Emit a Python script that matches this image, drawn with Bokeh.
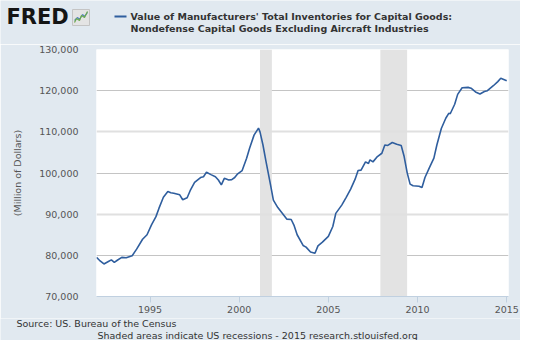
from bokeh.plotting import figure
from bokeh.layouts import column
from bokeh.models import (FixedTicker, NumeralTickFormatter, BoxAnnotation, Grid, Range1d)
from bokeh.core.properties import value
from bokeh.embed import file_html
from bokeh.resources import INLINE

# ---- data ----
months = ["1992-01", "1992-03", "1992-06", "1992-09", "1992-11", "1993-01", "1993-03",
          "1993-06", "1993-09", "1994-01", "1994-04", "1994-08", "1994-11", "1995-02",
          "1995-05", "1995-07", "1995-10", "1996-01", "1996-03", "1996-05", "1996-09",
          "1996-11", "1997-02", "1997-04", "1997-07", "1997-11", "1998-01", "1998-03",
          "1998-06", "1998-09", "1998-11", "1999-01", "1999-03", "1999-06", "1999-08",
          "1999-10", "1999-12", "2000-03", "2000-06", "2000-08", "2000-11", "2001-02",
          "2001-03", "2001-05", "2001-07", "2001-10", "2001-12", "2002-03", "2002-06",
          "2002-09", "2002-12", "2003-02", "2003-04", "2003-08", "2003-10", "2004-01",
          "2004-04", "2004-06", "2004-09", "2005-01", "2005-04", "2005-06", "2005-10",
          "2006-01", "2006-04", "2006-07", "2006-09", "2006-11", "2007-02", "2007-04",
          "2007-05", "2007-07", "2007-10", "2008-01", "2008-03", "2008-05", "2008-08",
          "2008-11", "2009-02", "2009-04", "2009-06", "2009-08", "2009-10", "2010-02",
          "2010-04", "2010-06", "2010-09", "2010-12", "2011-02", "2011-05", "2011-08",
          "2011-10", "2011-11", "2012-02", "2012-04", "2012-07", "2012-11", "2013-01",
          "2013-04", "2013-07", "2013-10", "2013-12", "2014-02", "2014-04", "2014-07",
          "2014-09", "2014-11", "2015-01"]
inventories = [79500, 78800, 77900, 78500, 78900, 78300, 78800,
               79500, 79400, 79900, 81500, 83900, 85000, 87400,
               89400, 91400, 94100, 95500, 95200, 95100, 94700,
               93500, 94000, 95700, 97700, 98900, 99100, 100200,
               99600, 99100, 98300, 97100, 98700, 98300, 98400,
               98900, 99800, 100600, 103600, 106000, 109200, 110900,
               110000, 106800, 102900, 97300, 93400, 91600, 90200,
               88800, 88700, 87200, 85000, 82400, 82000, 80800,
               80500, 82300, 83200, 84600, 87000, 90200, 92200,
               94100, 96100, 98500, 100600, 100700, 102700, 102300,
               103200, 102700, 104000, 104800, 106800, 106700, 107400,
               107000, 106700, 104000, 100100, 97300, 96900, 96800,
               96500, 98900, 101300, 103600, 106800, 110800, 113300,
               114500, 114400, 116700, 119100, 120700, 120800, 120600,
               119700, 119200, 119800, 120000, 120600, 121200, 122200,
               123000, 122700, 122400]
recession_starts = ["2001-03", "2007-12"]
recession_ends = ["2001-11", "2009-06"]
x_ticks = [1995, 2000, 2005, 2010, 2015]
y_ticks = [70000, 80000, 90000, 100000, 110000, 120000, 130000]

title_lines = ["Value of Manufacturers' Total Inventories for Capital Goods:",
               "Nondefense Capital Goods Excluding Aircraft Industries"]
source_text = "Source: US. Bureau of the Census"
note_text = "Shaded areas indicate US recessions - 2015 research.stlouisfed.org"


def dec(m):
    y, mo = m.split("-")
    return int(y) + (int(mo) - 1) / 12.0


xs = [dec(m) for m in months]

BG = "#e1e9f0"
FONT = "DejaVu Sans"
LINE = "#2f5e9e"
W = 520
HDR_H, MAIN_H, FTR_H = 44, 274, 22


def blank(h):
    f = figure(width=W, height=h, output_backend="svg", toolbar_location=None,
               x_range=Range1d(0, W), y_range=Range1d(h, 0),
               x_axis_type=None, y_axis_type=None, frame_align=False,
               min_border_left=0, min_border_right=0, min_border_top=0, min_border_bottom=0,
               background_fill_color=BG, border_fill_color=BG, outline_line_color=None)
    f.grid.visible = False
    return f


# ---- header ----
hdr = blank(HDR_H)
hdr.text(x=[6], y=[16.8], text=["FRED"], text_font=value(FONT), text_font_size="21px",
         text_font_style="bold", text_color="#151515", text_baseline="middle")
hdr.quad(left=[72], right=[89], top=[9], bottom=[25], fill_color="#e4e4e4",
         line_color="#c4c4c4", line_width=1)
hdr.line(x=[74, 77, 79, 82, 84, 87], y=[20, 17, 19, 14, 16, 12], line_color="#5b86c0",
         line_width=1.2)
hdr.line(x=[74, 76, 79, 81, 84, 87], y=[22, 18, 20, 15, 17, 11], line_color="#6aa84f",
         line_width=1.2)
hdr.segment(x0=[114], y0=[16], x1=[126], y1=[16], line_color=LINE, line_width=2)
hdr.text(x=[130, 130], y=[16, 27.7], text=title_lines, text_font=value(FONT),
         text_font_size="9.5px", text_font_style="bold", text_color="#333333",
         text_baseline="middle")

# ---- main chart ----
L, R, T, B = 96, 12, 5, 22
p_main = figure(width=W, height=MAIN_H, output_backend="svg", toolbar_location=None,
                x_range=Range1d(1992.0, 2015.1), y_range=Range1d(70000, 130000),
                frame_align=False,
                min_border_left=L, min_border_right=R, min_border_top=T, min_border_bottom=B,
                background_fill_color="white", border_fill_color=BG, outline_line_color=None)

for s, e in zip(recession_starts, recession_ends):
    p_main.add_layout(BoxAnnotation(left=dec(s), right=dec(e), fill_color="#e3e3e3",
                                    fill_alpha=1.0, line_color=None, level="underlay"))

p_main.xgrid.visible = False
p_main.ygrid.ticker = FixedTicker(ticks=[80000, 100000, 120000, 130000])
p_main.ygrid.grid_line_color = "#c4c4c4"
p_main.ygrid.grid_line_width = 1
p_main.add_layout(Grid(dimension=1, ticker=FixedTicker(ticks=[90000, 110000]),
                       grid_line_color="#e0e0e0", grid_line_width=2))

p_main.line(xs, inventories, line_color=LINE, line_width=1.6)

p_main.yaxis.ticker = FixedTicker(ticks=y_ticks)
p_main.yaxis.formatter = NumeralTickFormatter(format="0,0")
p_main.yaxis.axis_line_color = None
p_main.yaxis.major_tick_line_color = None
p_main.yaxis.minor_tick_line_color = None
p_main.yaxis.major_tick_out = 0
p_main.yaxis.major_tick_in = 0
p_main.yaxis.major_label_standoff = 18
p_main.yaxis.axis_label = "(Million of Dollars)"
p_main.yaxis.axis_label_standoff = 13
p_main.yaxis.axis_label_text_font_style = "normal"
p_main.yaxis.axis_label_text_font = FONT
p_main.yaxis.axis_label_text_font_size = "9.5px"
p_main.yaxis.axis_label_text_color = "#555555"

p_main.xaxis.ticker = FixedTicker(ticks=x_ticks)
p_main.xaxis.axis_line_color = "#c0d0e0"
p_main.xaxis.major_tick_line_color = "#c0d0e0"
p_main.xaxis.minor_tick_line_color = None
p_main.xaxis.major_tick_out = 6
p_main.xaxis.major_tick_in = 0
p_main.xaxis.major_label_standoff = 3

for ax in (p_main.xaxis, p_main.yaxis):
    ax.major_label_text_font = FONT
    ax.major_label_text_font_size = "9.5px"
    ax.major_label_text_color = "#555555"

# ---- footer ----
ftr = blank(FTR_H)
ftr.text(x=[16, 97], y=[5, 16.5], text=[source_text, note_text], text_font=value(FONT),
         text_font_size="9.5px", text_color="#333333", text_baseline="middle")

p = column(hdr, p_main, ftr, spacing=0)

open("out.html", "w").write(file_html(p, INLINE))
